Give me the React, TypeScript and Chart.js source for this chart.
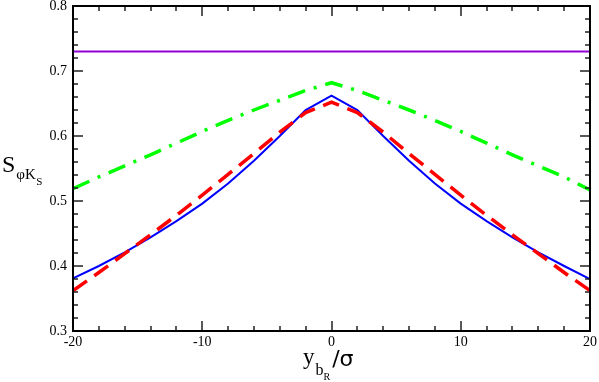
import React, { useEffect, useRef } from "react";
import { Chart, registerables } from "chart.js";

Chart.register(...registerables);

// ---- data ----
const xValues = [-20, -18, -16, -14, -12, -10, -8, -6, -4, -2, 0, 2, 4, 6, 8, 10, 12, 14, 16, 18, 20];
const blueValues = [0.381, 0.4, 0.421, 0.444, 0.469, 0.496, 0.527, 0.562, 0.6, 0.64, 0.662, 0.64, 0.6, 0.562, 0.527, 0.496, 0.469, 0.444, 0.421, 0.4, 0.38];
const redValues = [0.362, 0.39, 0.419, 0.448, 0.478, 0.509, 0.541, 0.573, 0.606, 0.636, 0.652, 0.636, 0.606, 0.573, 0.541, 0.509, 0.478, 0.448, 0.419, 0.39, 0.362];
const greenValues = [0.519, 0.537, 0.554, 0.571, 0.589, 0.607, 0.624, 0.64, 0.655, 0.67, 0.682, 0.67, 0.655, 0.64, 0.624, 0.607, 0.589, 0.571, 0.554, 0.537, 0.517];
const purpleX = [-20, 20];
const purpleValues = [0.73, 0.73];

const X_MIN = -20;
const X_MAX = 20;
const X_MAJOR = 10;
const X_MINOR = 2;
const Y_MIN = 0.3;
const Y_MAX = 0.8;
const Y_MAJOR = 0.1;
const Y_MINOR = 0.02;

const SERIF = "'Liberation Serif', 'Times New Roman', serif";

Chart.defaults.font.family = SERIF;
Chart.defaults.color = "#000";

const pts = (xs: number[], ys: number[]) => xs.map((x, i) => ({ x, y: ys[i] }));

const framePlugin = {
  id: "frameTicks",
  afterDraw(chart: any) {
    const ctx = chart.ctx;
    const a = chart.chartArea;
    const xs = chart.scales.x;
    const ys = chart.scales.y;
    ctx.save();
    ctx.setLineDash([]);
    // ticks (inward, all sides)
    ctx.fillStyle = "#222";
    const tw = 1.5;
    const nx = Math.round((X_MAX - X_MIN) / X_MINOR);
    for (let i = 0; i <= nx; i++) {
      const v = X_MIN + i * X_MINOR;
      const major = Math.abs(v / X_MAJOR - Math.round(v / X_MAJOR)) < 1e-6;
      const len = major ? 10 : 5;
      const px = Math.round(xs.getPixelForValue(v)) - tw / 2;
      ctx.fillRect(px, a.bottom - len, tw, len);
      ctx.fillRect(px, a.top, tw, len);
    }
    const ny = Math.round((Y_MAX - Y_MIN) / Y_MINOR);
    for (let i = 0; i <= ny; i++) {
      const v = Y_MIN + i * Y_MINOR;
      const major = Math.abs(v / Y_MAJOR - Math.round(v / Y_MAJOR)) < 1e-6;
      const len = major ? 10 : 5;
      const py = Math.round(ys.getPixelForValue(v)) - tw / 2;
      ctx.fillRect(a.left, py, len, tw);
      ctx.fillRect(a.right - len, py, len, tw);
    }
    // frame
    ctx.strokeStyle = "#000";
    ctx.lineWidth = 2;
    ctx.strokeRect(a.left, a.top, a.right - a.left, a.bottom - a.top);

    // axis titles
    ctx.fillStyle = "#000";
    ctx.textBaseline = "alphabetic";
    ctx.textAlign = "left";
    // y title: S_{φK_S}
    let x0 = 2;
    ctx.font = `24px ${SERIF}`;
    ctx.fillText("S", x0, 172);
    x0 += ctx.measureText("S").width + 1;
    ctx.font = `15px ${SERIF}`;
    ctx.fillText("φK", x0, 179);
    x0 += ctx.measureText("φK").width + 0.5;
    ctx.font = `11px ${SERIF}`;
    ctx.fillText("S", x0, 185);

    // x title: y_{b_R}/σ
    let x1 = 303;
    ctx.font = `23px ${SERIF}`;
    ctx.fillText("y", x1, 364);
    x1 += ctx.measureText("y").width + 1;
    ctx.font = `16px ${SERIF}`;
    ctx.fillText("b", x1, 375);
    x1 += ctx.measureText("b").width;
    ctx.font = `10px ${SERIF}`;
    ctx.fillText("R", x1, 380);
    x1 += ctx.measureText("R").width + 2;
    ctx.font = `22px 'DejaVu Sans', sans-serif`;
    ctx.fillText("/σ", x1, 366);
    ctx.restore();
  },
};

export default function App() {
  const ref = useRef<HTMLCanvasElement | null>(null);
  useEffect(() => {
    if (!ref.current) return;
    const chart = new Chart(ref.current, {
      type: "line",
      data: {
        datasets: [
          {
            label: "red",
            data: pts(xValues, redValues),
            borderColor: "#ff0000",
            borderWidth: 3.5,
            borderDash: [17, 9],
            pointRadius: 0,
            tension: 0,
          },
          {
            label: "blue",
            data: pts(xValues, blueValues),
            borderColor: "#0000ff",
            borderWidth: 2,
            pointRadius: 0,
            tension: 0,
          },
          {
            label: "green",
            data: pts(xValues, greenValues),
            borderColor: "#00ff00",
            borderWidth: 3.5,
            borderDash: [18, 9, 3, 9],
            pointRadius: 0,
            tension: 0,
          },
          {
            label: "purple",
            data: pts(purpleX, purpleValues),
            borderColor: "#9400d3",
            borderWidth: 2,
            pointRadius: 0,
            tension: 0,
          },
        ],
      },
      options: {
        responsive: false,
        animation: false,
        devicePixelRatio: 1,
        layout: { padding: { left: 0, right: 9, top: 6, bottom: 0 } },
        plugins: { legend: { display: false }, tooltip: { enabled: false } },
        scales: {
          x: {
            type: "linear",
            min: X_MIN,
            max: X_MAX,
            grid: { display: false, drawTicks: false },
            border: { display: false },
            ticks: {
              stepSize: X_MAJOR,
              padding: 3,
              color: "#000",
              font: { family: SERIF, size: 14 },
              maxRotation: 0,
            },
            afterFit: (s: any) => {
              s.height = 51;
              s.paddingLeft = 0;
              s.paddingRight = 0;
            },
          },
          y: {
            type: "linear",
            min: Y_MIN,
            max: Y_MAX,
            grid: { display: false, drawTicks: false },
            border: { display: false },
            ticks: {
              stepSize: Y_MAJOR,
              padding: 6,
              color: "#000",
              font: { family: SERIF, size: 14 },
            },
            afterFit: (s: any) => {
              s.width = 73;
              s.paddingTop = 0;
              s.paddingBottom = 0;
            },
          },
        },
      },
      plugins: [framePlugin],
    });
    return () => chart.destroy();
  }, []);
  return (
    <div style={{ position: "fixed", left: 0, top: 0, width: 599, height: 382, background: "#fff" }}>
      <canvas ref={ref} width={599} height={382} />
    </div>
  );
}
